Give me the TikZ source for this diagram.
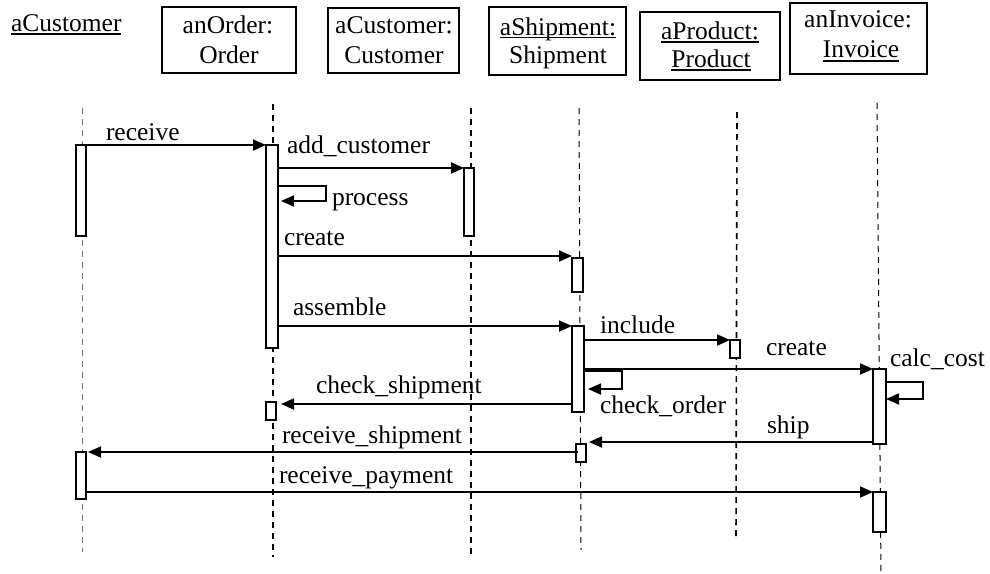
\documentclass[tikz,border=0pt]{standalone}
\usepackage{fontspec}
\setmainfont{Liberation Serif}
\usetikzlibrary{arrows.meta,calc}

\begin{document}
\begin{tikzpicture}[x=1pt,y=-1pt,
  lbl/.style={inner sep=0pt, outer sep=0pt, font=\fontsize{25.5}{30}\selectfont},
  objbox/.style={draw, line width=1.8pt, inner sep=0pt, outer sep=0pt, anchor=north west},
  act/.style={draw, fill=white, line width=1.8pt, inner sep=0pt, outer sep=0pt, anchor=north west},
  life/.style={dash pattern=on 6pt off 5pt, line width=1.6pt},
  lifethin/.style={dash pattern=on 6pt off 5pt, line width=1pt},
  msg/.style={line width=1.8pt, -{Triangle[length=13pt,width=11pt]}},
  uline/.style={line width=1.2pt}]

% canvas
\fill[white] (0,0) rectangle (990,573);
\useasboundingbox (0,0) rectangle (990,573);

% ---------- object headers ----------
\node[lbl, anchor=base west] (hA) at (11,31) {aCustomer};
\draw[uline] ([yshift=-3pt]hA.base west) -- ([yshift=-3pt]hA.base east);

\node[objbox, minimum width=134pt, minimum height=66pt] (hO) at (162,7) {};
\node[lbl, anchor=base] (hO1) at (228,33) {anOrder:};
\node[lbl, anchor=base] (hO2) at (229,63) {Order};

\node[objbox, minimum width=131pt, minimum height=65pt] (hC) at (328,8) {};
\node[lbl, anchor=base] (hC1) at (394,33) {aCustomer:};
\node[lbl, anchor=base] (hC2) at (394,63) {Customer};

\node[objbox, minimum width=137pt, minimum height=68pt] (hS) at (489,7) {};
\node[lbl, anchor=base] (hS1) at (558,35) {aShipment:};
\draw[uline] ([yshift=-2.5pt]hS1.base west) -- ([yshift=-2.5pt]hS1.base east);
\node[lbl, anchor=base] (hS2) at (558,63) {Shipment};

\node[objbox, minimum width=140pt, minimum height=68pt] (hP) at (640,12) {};
\node[lbl, anchor=base] (hP1) at (710,39) {aProduct:};
\draw[uline] ([yshift=-3pt]hP1.base west) -- ([yshift=-3pt]hP1.base east);
\node[lbl, anchor=base] (hP2) at (711,67) {Product};
\draw[uline] ([yshift=-3pt]hP2.base west) -- ([yshift=-3pt]hP2.base east);

\node[objbox, minimum width=137pt, minimum height=71pt] (hI) at (790,3) {};
\node[lbl, anchor=base] (hI1) at (858,27) {anInvoice:};
\node[lbl, anchor=base] (hI2) at (861,57) {Invoice};
\draw[uline] ([yshift=-4pt]hI2.base west) -- ([yshift=-4pt]hI2.base east);

% ---------- lifelines ----------
\coordinate (LAt) at (82,108);  \coordinate (LAb) at (82,552);
\coordinate (LOt) at (273,104); \coordinate (LOb) at (273,557);
\coordinate (LCt) at (471,108); \coordinate (LCb) at (471,557);
\coordinate (LSt) at (579,108); \coordinate (LSb) at (581,550);
\coordinate (LPt) at (737,112); \coordinate (LPb) at (736,540);
\coordinate (LIt) at (877,103); \coordinate (LIb) at (881,575);
\draw[lifethin, black!55] (LAt) -- (LAb);
\draw[life] (LOt) -- (LOb);
\draw[life] (LCt) -- (LCb);
\draw[lifethin] (LSt) -- (LSb);
\draw[life] (LPt) -- (LPb);
\draw[lifethin] (LIt) -- (LIb);

% ---------- activation bars ----------
\node[act, minimum width=10pt, minimum height=91pt]  (c1)  at (76,145) {};
\node[act, minimum width=12pt, minimum height=203pt] (o1)  at (266,145) {};
\node[act, minimum width=10pt, minimum height=68pt]  (cc1) at (464,168) {};
\node[act, minimum width=11pt, minimum height=34pt]  (s1)  at (572,258) {};
\node[act, minimum width=12pt, minimum height=86pt]  (s2)  at (572,326) {};
\node[act, minimum width=10pt, minimum height=18pt]  (p1)  at (730,340) {};
\node[act, minimum width=13pt, minimum height=75pt]  (i1)  at (873,369) {};
\node[act, minimum width=10pt, minimum height=18pt]  (o2)  at (266,402) {};
\node[act, minimum width=10pt, minimum height=18pt]  (s3)  at (576,444) {};
\node[act, minimum width=10pt, minimum height=47pt]  (c2)  at (76,452) {};
\node[act, minimum width=13pt, minimum height=40pt]  (i3)  at (873,492) {};

% ---------- messages ----------
\draw[msg] (c1.north east) -- (o1.north west);
\draw[msg] (o1.east |- cc1.north) -- (cc1.north west);
\draw[msg] ($(o1.north east)+(0,41)$) -- ++(48,0) -- ++(0,15) -- ++(-45,0);
\draw[msg] ($(o1.east |- s1.north)+(0,-2)$) -- ($(s1.north west)+(0,-2)$);
\draw[msg] (o1.east |- s2.north) -- (s2.north west);
\draw[msg] (s2.east |- p1.north) -- (p1.north west);
\draw[msg] (s2.east |- i1.north) -- (i1.north west);
\draw[msg] ($(i1.north east)+(0,13)$) -- ++(37,0) -- ++(0,17) -- ++(-37,0);
\draw[msg] ($(s2.north east)+(0,45)$) -- ++(38,0) -- ++(0,18) -- ++(-34,0);
\draw[msg] ($(s2.south west)+(1,-8)$) -- ($(o2.north east)+(5,2)$);
\draw[msg] ($(i1.south west)+(0,-2)$) -- ($(s3.north east)+(3,-2)$);
\draw[msg] ($(s3.north west)+(2,8)$) -- ($(c2.north east)+(2,0)$);
\draw[msg] (c2.east |- i3.north) -- (i3.north west);

% ---------- message labels ----------
\node[lbl, anchor=base west] (mReceive)   at (106,140) {receive};
\node[lbl, anchor=base west] (mAddCust)   at (287,153) {add\_customer};
\node[lbl, anchor=base west] (mProcess)   at (332,205) {process};
\node[lbl, anchor=base west] (mCreate)    at (284,245) {create};
\node[lbl, anchor=base west] (mAssemble)  at (293,315) {assemble};
\node[lbl, anchor=base west] (mInclude)   at (600,333) {include};
\node[lbl, anchor=base west] (mCreateInv) at (766,355) {create};
\node[lbl, anchor=base west] (mCalcCost)  at (890,366) {calc\_cost};
\node[lbl, anchor=base west] (mCheckOrd)  at (600,413) {check\_order};
\node[lbl, anchor=base west] (mCheckShp)  at (316,393) {check\_shipment};
\node[lbl, anchor=base west] (mShip)      at (767,433) {ship};
\node[lbl, anchor=base west] (mRecvShp)   at (282,443) {receive\_shipment};
\node[lbl, anchor=base west] (mRecvPay)   at (279,483) {receive\_payment};
\end{tikzpicture}
\end{document}
